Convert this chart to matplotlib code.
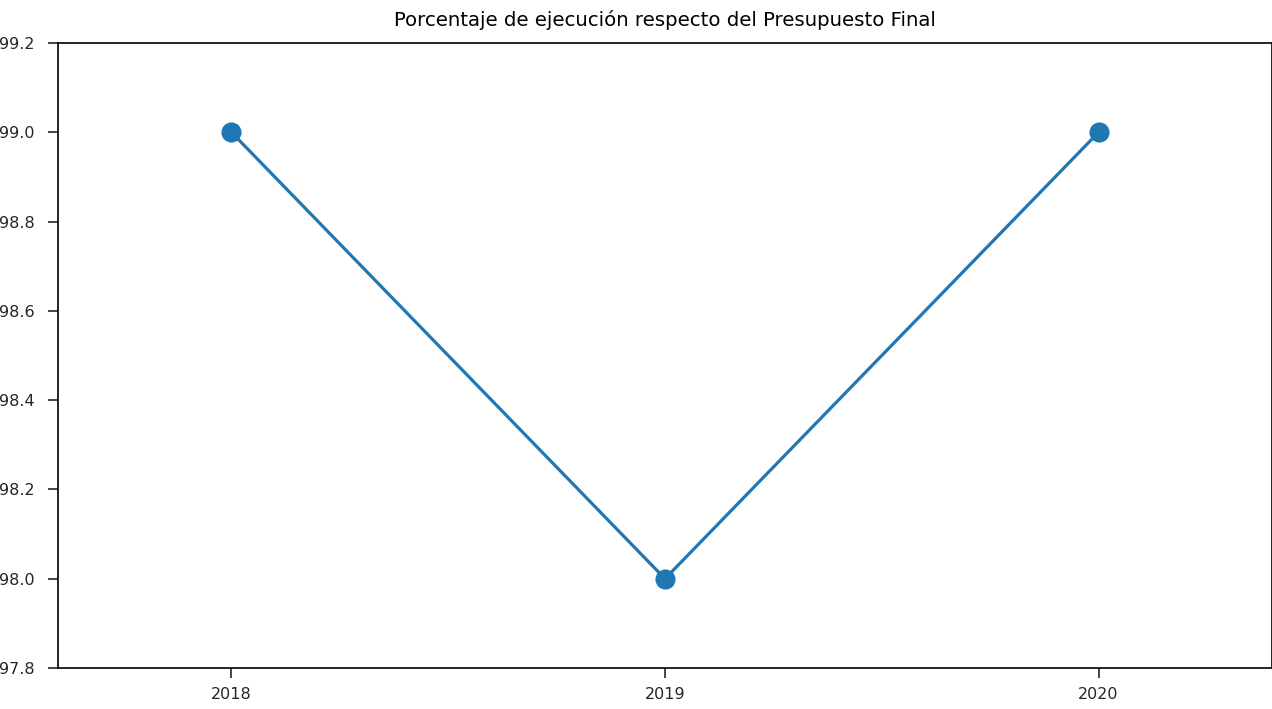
import matplotlib
matplotlib.use("Agg")
import matplotlib.pyplot as plt

# =========================
# DATA
# =========================
years = [2018, 2019, 2020]
porcentaje = [99.0, 98.0, 99.0]
y_ticks = [97.8, 98.0, 98.2, 98.4, 98.6, 98.8, 99.0, 99.2]

plt.rcParams["font.family"] = ["DejaVu Sans"]

# =========================
# FIGURE (axes pushed to the edges, labels clipped like the original)
# =========================
W, H = 1272, 709
fig = plt.figure(figsize=(W / 100, H / 100), dpi=100)
ax = fig.add_axes([58 / W, (H - 668) / H, (W - 58) / W, (668 - 43) / H])

ax.plot(years, porcentaje, color="#1f77b4", linewidth=2.3,
        marker="o", markersize=13.5)

ax.set_xlim(2017.6, 2020.4)
ax.set_ylim(97.8, 99.2)
ax.set_xticks(years)
ax.set_xticklabels([str(y) for y in years])
ax.set_yticks(y_ticks)
ax.set_yticklabels([f"{v:.1f}" for v in y_ticks])

ax.tick_params(axis="both", length=7.5, width=1.2, labelsize=11.5,
               colors="#262626")
ax.tick_params(axis="y", pad=9.5)
ax.tick_params(axis="x", pad=6)
for s in ax.spines.values():
    s.set_linewidth(1.2)

ax.set_title("Porcentaje de ejecución respecto del Presupuesto Final",
             fontsize=14.2, pad=12)

fig.savefig("out.png", dpi=100)
plt.close(fig)
